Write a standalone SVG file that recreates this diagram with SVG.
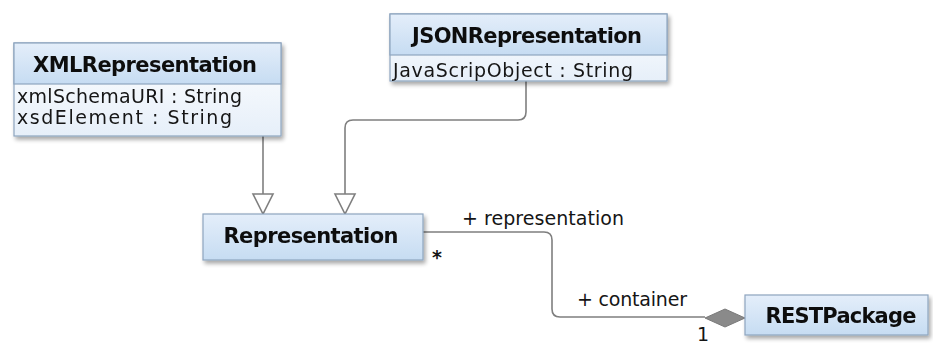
<svg xmlns="http://www.w3.org/2000/svg" width="933" height="344" viewBox="0 0 933 344">
  <style>
    .box { stroke: #8ea5bf; stroke-width: 1.2; }
    .title { font-family: "DejaVu Sans", Verdana, sans-serif; font-weight: bold; font-size: 21px; fill: #111111; text-anchor: middle; }
    .attr { font-family: "DejaVu Sans", Verdana, sans-serif; font-size: 19px; fill: #151515; }
    .lbl { font-family: "DejaVu Sans", Verdana, sans-serif; font-size: 19px; fill: #151515; }
    .edge { fill: none; stroke: #7f7f7f; stroke-width: 1.6; }
    .gen { fill: #ffffff; stroke: #7f7f7f; stroke-width: 1.6; stroke-linejoin: miter; }
    .comp { fill: #8a8a8a; stroke: #7a7a7a; stroke-width: 1; }
  </style>
  <defs>
    <linearGradient id="hdr" x1="0" y1="0" x2="0" y2="1">
      <stop offset="0" stop-color="#e4eefa"/>
      <stop offset="1" stop-color="#c6dcf2"/>
    </linearGradient>
    <linearGradient id="body" x1="0" y1="0" x2="0" y2="1">
      <stop offset="0" stop-color="#ffffff"/>
      <stop offset="1" stop-color="#e6eff9"/>
    </linearGradient>
    <filter id="shadow" x="-10%" y="-10%" width="125%" height="140%">
      <feGaussianBlur in="SourceAlpha" stdDeviation="2"/>
      <feOffset dx="2" dy="3" result="b"/>
      <feComponentTransfer><feFuncA type="linear" slope="0.35"/></feComponentTransfer>
      <feMerge><feMergeNode/><feMergeNode in="SourceGraphic"/></feMerge>
    </filter>
    <clipPath id="clipXml"><rect x="14" y="84" width="267" height="52"/></clipPath>
    <clipPath id="clipJson"><rect x="390" y="55" width="277" height="26"/></clipPath>
  </defs>

  <rect width="933" height="344" fill="#ffffff"/>

  <!-- connectors -->
  <g id="connectors">
    <!-- XMLRepresentation generalizes Representation -->
    <path class="edge" d="M263,136 V194"/>
    <polygon class="gen" points="253,194 273,194 263,214"/>
    <!-- JSONRepresentation generalizes Representation -->
    <path class="edge" d="M526,81 V112 Q526,120 518,120 H353 Q345,120 345,128 V194"/>
    <polygon class="gen" points="335,194 355,194 345,214"/>
    <!-- composition RESTPackage <>- Representation -->
    <path class="edge" d="M423,232 H544 Q552,232 552,240 V309 Q552,317 560,317 H705"/>
    <polygon class="comp" points="705,318 725,309 745,318 725,327"/>
    <text class="lbl" x="462" y="225" textLength="162">+ representation</text>
    <text class="lbl" x="432" y="264" font-weight="bold">*</text>
    <text class="lbl" x="577" y="306" textLength="110">+ container</text>
    <text class="lbl" x="697" y="341" font-size="16">1</text>
  </g>

  <!-- XMLRepresentation -->
  <g id="XMLRepresentation" filter="url(#shadow)">
    <rect class="box" x="14" y="43" width="267" height="93" fill="url(#body)"/>
    <rect class="box" x="14" y="43" width="267" height="41" fill="url(#hdr)"/>
    <text class="title" x="145" y="72" textLength="224">XMLRepresentation</text>
    <g clip-path="url(#clipXml)">
      <text class="attr" x="17" y="103" textLength="225">xmlSchemaURI : String</text>
      <text class="attr" x="17" y="124" textLength="215">xsdElement : String</text>
    </g>
  </g>

  <!-- JSONRepresentation -->
  <g id="JSONRepresentation" filter="url(#shadow)">
    <rect class="box" x="390" y="14" width="277" height="67" fill="url(#body)"/>
    <rect class="box" x="390" y="14" width="277" height="41" fill="url(#hdr)"/>
    <text class="title" x="527" y="43" textLength="230">JSONRepresentation</text>
    <g clip-path="url(#clipJson)">
      <text class="attr" x="393" y="77" textLength="240">JavaScripObject : String</text>
    </g>
  </g>

  <!-- Representation -->
  <g id="Representation" filter="url(#shadow)">
    <rect class="box" x="203" y="214" width="220" height="46" fill="url(#hdr)"/>
    <text class="title" x="311" y="243" textLength="175">Representation</text>
  </g>

  <!-- RESTPackage -->
  <g id="RESTPackage" filter="url(#shadow)">
    <rect class="box" x="745" y="295" width="183" height="40" fill="url(#hdr)"/>
    <text class="title" x="841" y="323" textLength="151">RESTPackage</text>
  </g>
</svg>
